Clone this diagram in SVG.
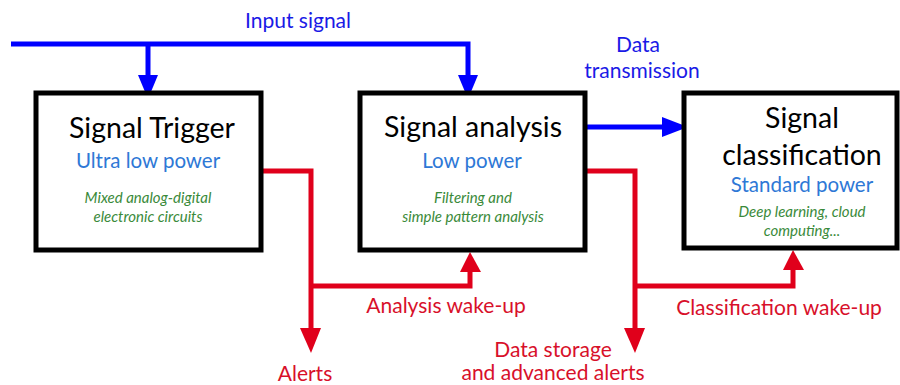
<svg xmlns="http://www.w3.org/2000/svg" width="900" height="385" viewBox="0 0 900 385">
<style>
text{font-family:Lato,"Open Sans","Liberation Sans",sans-serif;text-anchor:middle}
.title{font-size:28.5px;fill:#000}
.power{font-size:20.5px;fill:#2e78d6}
.desc{font-size:15px;fill:#3a8a3a;font-style:italic}
.blue{font-size:21px;fill:#1a1ae6}
.red{font-size:21px;fill:#d8102a}
.box{fill:#fff;stroke:#000;stroke-width:5}
.bl{fill:none;stroke:#0000ff;stroke-width:5}
.rd{fill:none;stroke:#e0001b;stroke-width:5}
</style>
<g id="connectors">
<path class="bl" d="M11,44 H468 V75"/>
<path class="bl" d="M148,44 V75"/>
<path class="bl" d="M587,127 H663"/>
<path d="M138,75 L158,75 L148,99 Z" fill="#0000ff"/>
<path d="M458,75 L478,75 L468,99 Z" fill="#0000ff"/>
<path d="M662,117 L662,137 L688,127 Z" fill="#0000ff"/>
<path class="rd" d="M263,171 H311 V330"/>
<path class="rd" d="M311,286 H470 V272"/>
<path d="M300,328 L321,328 L311,353 Z" fill="#e0001b"/>
<path d="M460,272 L481,272 L470,252 Z" fill="#e0001b"/>
<path class="rd" d="M587,171 H635 V330"/>
<path class="rd" d="M635,286 H793 V270"/>
<path d="M624,328 L645,328 L635,353 Z" fill="#e0001b"/>
<path d="M783,270 L804,270 L793,250 Z" fill="#e0001b"/>
</g>
<g id="trigger">
<rect class="box" x="36" y="93" width="225" height="157"/>
<text class="title" x="152" y="138">Signal Trigger</text>
<text class="power" x="148" y="168">Ultra low power</text>
<text class="desc" x="148" y="203">Mixed analog-digital</text>
<text class="desc" x="148" y="222">electronic circuits</text>
</g>
<g id="analysis">
<rect class="box" x="360" y="93" width="225" height="157"/>
<text class="title" x="473" y="137">Signal analysis</text>
<text class="power" x="472" y="168">Low power</text>
<text class="desc" x="473" y="203">Filtering and</text>
<text class="desc" x="473" y="222">simple pattern analysis</text>
</g>
<g id="classification">
<rect class="box" x="684" y="93" width="213" height="155"/>
<text class="title" x="802" y="128">Signal</text>
<text class="title" x="802" y="165">classification</text>
<text class="power" x="802" y="192">Standard power</text>
<text class="desc" x="802" y="217">Deep learning, cloud</text>
<text class="desc" x="802" y="236">computing...</text>
</g>
<g id="labels">
<text class="blue" x="298" y="28">Input signal</text>
<text class="blue" x="638" y="52">Data</text>
<text class="blue" x="642" y="78">transmission</text>
<text class="red" x="446" y="313">Analysis wake-up</text>
<text class="red" x="779" y="315">Classification wake-up</text>
<text class="red" x="305" y="381">Alerts</text>
<text class="red" x="553" y="357">Data storage</text>
<text class="red" x="553" y="380">and advanced alerts</text>
</g>
</svg>
